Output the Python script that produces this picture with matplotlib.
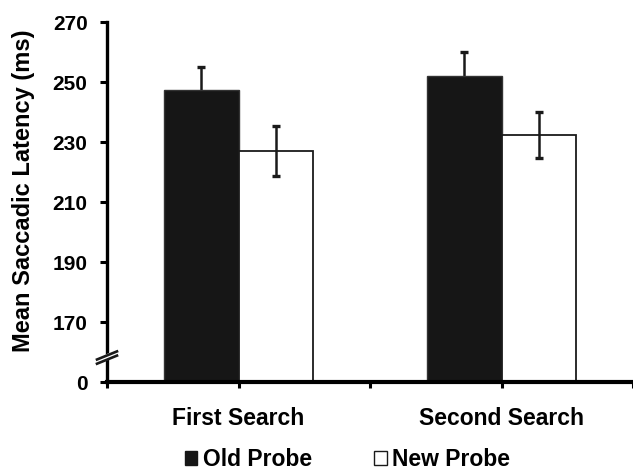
import numpy as np
import matplotlib
matplotlib.use("Agg")
import matplotlib.pyplot as plt
from matplotlib.patches import Patch

plt.rcParams["font.family"] = ["Liberation Sans", "DejaVu Sans"]
plt.rcParams["font.weight"] = "bold"

# =========================
# Data
# =========================

categories = ["First Search", "Second Search"]
old_probe = [247.4, 251.9]
old_err = [7.6, 8.0]
new_probe = [227.1, 232.3]
new_err = [8.4, 7.6]

y_ticks = [170, 190, 210, 230, 250, 270]

# the axis is broken: value 0 sits one step below 170
BREAK_BASE = 150

# =========================
# Plot
# =========================

fig = plt.figure(figsize=(6.33, 4.71), dpi=100)
ax = fig.add_axes([107 / 633, 1 - 382 / 471, 1 - 107 / 633, 360 / 471])

x = np.arange(len(categories))
w = 0.285

old_h = np.array(old_probe) - BREAK_BASE
new_h = np.array(new_probe) - BREAK_BASE

ax.bar(x - w / 2, old_h, w, bottom=BREAK_BASE, color="#161616",
       edgecolor="#333333", linewidth=1.0, label="Old Probe", zorder=2)
ax.bar(x + w / 2, new_h, w, bottom=BREAK_BASE, color="white",
       edgecolor="#1a1a1a", linewidth=1.3, label="New Probe", zorder=2)

ax.errorbar(x - w / 2, old_probe, yerr=old_err, fmt="none", ecolor="#1a1a1a",
            elinewidth=1.8, capsize=3, capthick=2.4, zorder=1)
ax.errorbar(x + w / 2, new_probe, yerr=new_err, fmt="none", ecolor="#1a1a1a",
            elinewidth=1.8, capsize=3, capthick=2.4, zorder=3)

ax.set_ylim(BREAK_BASE, 270)
ax.set_xlim(-0.5, 1.466)

ax.set_yticks([BREAK_BASE] + y_ticks)
ax.set_yticklabels(["0"] + [str(t) for t in y_ticks])
ax.set_xticks(x)
ax.set_xticklabels(categories)
ax.set_xticks([-0.5, 0.5, 1.5], minor=True)

ax.tick_params(axis="y", direction="out", length=5, width=2.2, labelsize=15, pad=9)
ax.tick_params(axis="x", which="both", direction="out", length=4, width=2.2,
               labelsize=16.5, pad=14)

for s in ["top", "right"]:
    ax.spines[s].set_visible(False)
ax.spines["left"].set_linewidth(2.4)
ax.spines["bottom"].set_linewidth(3.0)
ax.spines["left"].set_zorder(5)
ax.spines["bottom"].set_zorder(5)

ax.set_ylabel("Mean Saccadic Latency (ms)", fontsize=17, fontweight="bold")
ax.yaxis.set_label_coords(35 / 633, 1 - 191 / 471, transform=fig.transFigure)

# axis break marks
trans = ax.get_yaxis_transform()
ax.fill([-0.012, 0.012, 0.012, -0.012], [156.6, 158.4, 160.0, 158.2], color="white",
        transform=trans, clip_on=False, zorder=6)
for y0 in (156.1, 157.5):
    ax.plot([-0.019, 0.019], [y0, y0 + 2.7], color="#1a1a1a", lw=1.9,
            transform=trans, clip_on=False, zorder=7)

handles = [Patch(facecolor="#161616", edgecolor="#161616", label="Old Probe"),
           Patch(facecolor="white", edgecolor="#1a1a1a", linewidth=1.0, label="New Probe")]
fig.legend(handles=handles, loc="center", bbox_to_anchor=(0.549, 1 - 460 / 471), ncol=2,
           frameon=False, fontsize=16.5, handlelength=0.55, handleheight=0.55,
           handletextpad=0.25, columnspacing=2.7, borderpad=0.1)

fig.savefig("out.png", dpi=100)
